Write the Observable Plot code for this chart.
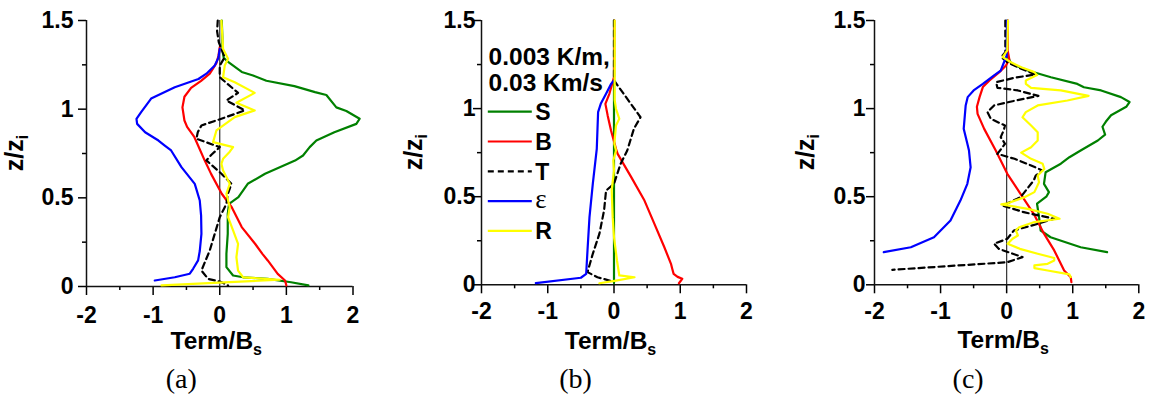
<!DOCTYPE html>
<html>
<head>
<meta charset="utf-8">
<script src="https://cdn.jsdelivr.net/npm/d3@7"></script>
<script src="https://cdn.jsdelivr.net/npm/@observablehq/plot@0.6"></script>
<style>
  body { margin: 0; background: #fff; }
  #fig { position: relative; width: 1151px; height: 396px; overflow: hidden; background: #fff; }
  #fig svg { position: absolute; top: 0; }
</style>
</head>
<body>
<div id="fig"></div>
<script>
// ---- axis ticks and labels ----
const zTicks = [0, 0.5, 1, 1.5];
const zMinorTicks = [0.25, 0.75, 1.25];
const termTicks = [-2, -1, 0, 1, 2];
const termMinorTicks = [-1.5, -0.5, 0.5, 1.5];
const termNames = ["S", "B", "T", "ε", "R"];
const legendNote = ["0.003 K/m,", "0.03 Km/s"];
const panelLabels = ["(a)", "(b)", "(c)"];

// ---- budget profiles: [z/zi, term/Bs] ----
// panel (a)
const a_S = [[1.5,0.03],[1.4,0.04],[1.33,0.04],[1.29,0.06],[1.265,0.13],[1.21,0.33],[1.19,0.5],[1.16,0.7],[1.13,1.12],[1.096,1.43],[1.08,1.6],[1.01,1.75],[0.99,1.9],[0.946,2.1],[0.917,2.05],[0.87,1.72],[0.823,1.45],[0.786,1.35],[0.739,1.25],[0.71,1.13],[0.692,1.02],[0.636,0.68],[0.579,0.42],[0.504,0.28],[0.466,0.14],[0.41,0.12],[0.297,0.12],[0.184,0.1],[0.109,0.1],[0.062,0.2],[0.052,0.35],[0.043,0.72],[0.024,1.07],[0.006,1.33]];
const a_B = [[1.35,0.0],[1.3,-0.02],[1.26,-0.05],[1.2,-0.15],[1.16,-0.28],[1.12,-0.43],[1.07,-0.53],[1.01,-0.56],[0.936,-0.53],[0.9,-0.49],[0.842,-0.38],[0.71,-0.225],[0.635,-0.13],[0.523,0.03],[0.447,0.18],[0.335,0.33],[0.241,0.53],[0.184,0.64],[0.147,0.72],[0.071,0.87],[0.034,0.98],[0.006,1.0]];
const a_T = [[1.5,-0.03],[1.44,-0.04],[1.378,-0.015],[1.293,0.075],[1.246,0],[1.18,0],[1.092,0.275],[1.049,0.1],[0.993,0.375],[0.946,0.025],[0.908,-0.275],[0.87,-0.33],[0.833,-0.35],[0.786,0],[0.743,-0.125],[0.711,-0.2],[0.636,0.025],[0.579,0.175],[0.52,0.12],[0.466,0.1],[0.391,0],[0.297,-0.075],[0.203,-0.15],[0.09,-0.275],[0.043,-0.175],[0.028,0],[0.006,0.125]];
const a_E = [[1.34,0],[1.29,-0.02],[1.246,-0.075],[1.2,-0.2],[1.17,-0.32],[1.124,-0.675],[1.06,-1.03],[0.983,-1.18],[0.945,-1.25],[0.917,-1.24],[0.87,-1.12],[0.823,-0.92],[0.795,-0.825],[0.767,-0.73],[0.673,-0.575],[0.579,-0.375],[0.485,-0.3],[0.4,-0.28],[0.297,-0.275],[0.2,-0.3],[0.147,-0.325],[0.1,-0.4],[0.072,-0.45],[0.052,-0.675],[0.034,-0.975]];
const a_R = [[1.5,0.025],[1.34,0.05],[1.284,0.125],[1.246,0.075],[1.18,0.05],[1.152,0.225],[1.092,0.525],[1.036,0.25],[0.993,0.525],[0.955,0.225],[0.88,-0.05],[0.814,-0.1],[0.786,0.2],[0.76,0.15],[0.72,0.05],[0.692,0.025],[0.654,0.05],[0.579,0.15],[0.523,0.1],[0.447,0.15],[0.391,0.125],[0.316,0.2],[0.241,0.275],[0.165,0.25],[0.09,0.275],[0.052,0.35],[0.038,0.9],[0.006,-0.875]];

// panel (b)
const b_S = [[1.5,0],[1.0,0],[0.5,0],[0.01,0]];
const b_B = [[1.5,0.005],[1.178,0],[1.084,-0.07],[1.027,-0.13],[0.96,-0.095],[0.876,-0.045],[0.772,0.03],[0.743,0.055],[0.611,0.26],[0.478,0.46],[0.346,0.61],[0.213,0.76],[0.119,0.86],[0.09,0.88],[0.062,0.9],[0.045,0.96],[0.034,1.03],[0.009,0.98]];
const b_T = [[1.5,0],[1.16,0],[0.951,0.4],[0.885,0.3],[0.762,0.2],[0.687,0.1],[0.573,0],[0.535,-0.12],[0.422,-0.15],[0.29,-0.22],[0.176,-0.32],[0.072,-0.4],[0.043,-0.25],[0.019,-0.02]];
const b_E = [[1.16,0],[1.14,-0.045],[1.084,-0.12],[1.027,-0.2],[0.98,-0.24],[0.772,-0.26],[0.573,-0.32],[0.384,-0.37],[0.195,-0.4],[0.062,-0.42],[0.04,-0.5],[0.009,-1.18]];
const b_R = [[1.5,0.01],[1.05,0.01],[0.999,0.03],[0.942,0.08],[0.904,0.03],[0.8,0.005],[0.762,0.03],[0.705,-0.01],[0.649,0],[0.535,-0.035],[0.384,-0.02],[0.27,0],[0.138,0.045],[0.053,0.08],[0.043,0.31],[0.024,0.03],[0.009,-0.22]];

// panel (c)
const c_S = [[1.5,0.01],[1.3,0.01],[1.254,0.07],[1.216,0.32],[1.178,0.67],[1.14,1.07],[1.121,1.17],[1.103,1.43],[1.065,1.73],[1.037,1.86],[1.01,1.81],[0.962,1.58],[0.925,1.5],[0.897,1.45],[0.852,1.49],[0.819,1.38],[0.762,1.12],[0.724,0.95],[0.687,0.82],[0.639,0.59],[0.573,0.565],[0.526,0.64],[0.5,0.6],[0.46,0.46],[0.384,0.49],[0.308,0.515],[0.27,0.665],[0.213,1.12],[0.185,1.52]];
const c_B = [[1.5,0.02],[1.33,0.015],[1.28,0.04],[1.245,-0.01],[1.207,-0.11],[1.16,-0.26],[1.122,-0.36],[1.065,-0.41],[1.01,-0.45],[0.97,-0.44],[0.885,-0.34],[0.762,-0.165],[0.63,0.01],[0.516,0.21],[0.403,0.41],[0.29,0.565],[0.195,0.72],[0.081,0.87],[0.043,0.97],[0.015,0.98]];
const c_T = [[1.5,-0.02],[1.32,-0.02],[1.292,-0.08],[1.263,0.01],[1.226,0.22],[1.194,0.44],[1.175,0.12],[1.15,-0.16],[1.118,-0.14],[1.103,0.17],[1.072,0.48],[1.046,0.14],[1.018,-0.19],[0.98,-0.29],[0.942,-0.24],[0.904,-0.025],[0.876,-0.045],[0.838,-0.09],[0.8,-0.025],[0.743,-0.14],[0.715,0.12],[0.677,0.37],[0.649,0.54],[0.62,0.44],[0.592,0.41],[0.554,0.33],[0.497,0.21],[0.45,-0.065],[0.412,0.26],[0.375,0.72],[0.346,0.47],[0.308,0.11],[0.261,0.01],[0.233,-0.19],[0.204,-0.12],[0.157,0.24],[0.128,0.01],[0.085,-1.73]];
const c_E = [[1.5,0.005],[1.3,0],[1.263,-0.04],[1.216,-0.09],[1.188,-0.19],[1.14,-0.36],[1.103,-0.5],[1.065,-0.59],[1.018,-0.62],[0.885,-0.65],[0.809,-0.6],[0.762,-0.57],[0.667,-0.545],[0.573,-0.595],[0.478,-0.7],[0.365,-0.85],[0.27,-1.1],[0.213,-1.45],[0.185,-1.86]];
const c_R = [[1.5,0.02],[1.33,0.01],[1.292,-0.06],[1.263,0.065],[1.235,0.22],[1.207,0.42],[1.19,0.46],[1.16,0.29],[1.141,0.29],[1.118,0.37],[1.103,0.82],[1.072,1.24],[1.046,0.92],[1.018,0.47],[0.98,0.29],[0.951,0.24],[0.904,0.37],[0.866,0.47],[0.819,0.47],[0.781,0.37],[0.75,0.22],[0.715,0.37],[0.687,0.545],[0.658,0.57],[0.62,0.47],[0.582,0.49],[0.526,0.42],[0.497,0.27],[0.463,0.015],[0.456,-0.08],[0.431,0.32],[0.403,0.62],[0.375,0.8],[0.356,0.42],[0.327,0.19],[0.308,0.14],[0.28,0.17],[0.261,0.09],[0.233,0.015],[0.204,0.2],[0.176,0.47],[0.152,0.72],[0.138,0.72],[0.119,0.62],[0.11,0.42],[0.095,0.42],[0.081,0.62],[0.059,0.95],[0.044,0.97]];

const panelSeries = [
  [a_S, a_B, a_T, a_E, a_R],
  [b_S, b_B, b_T, b_E, b_R],
  [c_S, c_B, c_T, c_E, c_R]
];

// ---- styling ----
const termStyle = [
  {stroke: "#008000"},
  {stroke: "#ff0000"},
  {stroke: "#000000", dash: "6,4"},
  {stroke: "#0000ff"},
  {stroke: "#ffff00"}
];
const sans = "'Liberation Sans', Arial, Helvetica, sans-serif";
const serif = "'Liberation Serif', 'Times New Roman', Times, serif";
const ML = 86, MR = 10, MT = 20, H = 396;

const layout = [
  {svgLeft: 0,     frameW: 266.5, frameBottom: 286,   yTickPad: 5,  xTickPad: 11, zLabelOff: 63,   legend: false},
  {svgLeft: 394.7, frameW: 265,   frameBottom: 284.3, yTickPad: -2, xTickPad: 9,  zLabelOff: 59.5, legend: true},
  {svgLeft: 787.7, frameW: 264.3, frameBottom: 284.3, yTickPad: 1,  xTickPad: 9,  zLabelOff: 60,   legend: false}
];

// helper for SVG text with explicit inline styling
function styledText(sel, {family = sans, weight = "bold", size = 24, anchor = "start"} = {}) {
  return sel.append("text")
    .style("font-family", family)
    .style("font-weight", weight)
    .style("font-size", size + "px")
    .style("text-anchor", anchor)
    .attr("fill", "#000");
}

const fig = document.getElementById("fig");

layout.forEach((p, k) => {
  const series = panelSeries[k];
  const lineMarks = series.map((pts, i) =>
    Plot.line(pts, {
      x: d => d[1], y: d => d[0],
      stroke: termStyle[i].stroke,
      strokeWidth: 2.2,
      strokeDasharray: termStyle[i].dash,
      strokeLinejoin: "round"
    })
  );

  const tickText = {fontSize: 23, fontWeight: "bold", fontFamily: sans};

  const plot = Plot.plot({
    width: ML + p.frameW + MR,
    height: H,
    marginLeft: ML, marginRight: MR, marginTop: MT, marginBottom: H - p.frameBottom,
    x: {domain: [-2, 2], label: null},
    y: {domain: [0, 1.5], label: null},
    style: {fontFamily: sans, fontSize: "23px", fontWeight: "bold", color: "#000", background: "#fff"},
    marks: [
      // reference line at zero
      Plot.ruleX([0], {y1: 0, y2: 1.5, stroke: "#333", strokeWidth: 1.2}),
      // axes
      Plot.axisX(termTicks, {tickSize: 9, tickPadding: p.xTickPad, tickFormat: d => String(d), strokeWidth: 1.5, label: null, ...tickText}),
      Plot.axisX(termMinorTicks, {tickSize: 4, tickFormat: () => "", strokeWidth: 1.5, label: null}),
      Plot.axisY(zTicks, {tickSize: 8, tickPadding: p.yTickPad, tickFormat: d => String(d), strokeWidth: 1.5, label: null, ...tickText}),
      Plot.axisY(zMinorTicks, {tickSize: 4, tickFormat: () => "", strokeWidth: 1.5, label: null}),
      Plot.ruleY([0], {x1: -2, x2: 2, stroke: "#111", strokeWidth: 1.5}),
      Plot.ruleX([-2], {y1: 0, y2: 1.5, stroke: "#111", strokeWidth: 1.5}),
      ...lineMarks
    ]
  });

  plot.style.left = p.svgLeft + "px";
  const svg = d3.select(plot);
  const cx = ML + p.frameW / 2;
  const frameH = p.frameBottom - MT;

  // x title: Term/Bs
  const xt = styledText(svg, {size: 24.5, anchor: "middle"})
    .attr("x", cx - 3).attr("y", 348.5);
  xt.append("tspan").text("Term/B");
  xt.append("tspan").attr("dy", 6).style("font-size", "16px").text("s");

  // y title: z/zi
  const yt = styledText(svg, {size: 25, anchor: "middle"})
    .attr("transform", `translate(${ML - p.zLabelOff},${MT + frameH / 2}) rotate(-90)`);
  yt.append("tspan").text("z/z");
  yt.append("tspan").attr("dy", 5).style("font-size", "16px").text("i");

  // panel letter
  styledText(svg, {family: serif, weight: "normal", size: 28, anchor: "middle"})
    .attr("x", cx - 38).attr("y", 388)
    .text(panelLabels[k]);

  // legend with stratification note
  if (p.legend) {
    const g = svg.append("g");
    legendNote.forEach((t, i) => {
      styledText(g, {size: 24.5}).attr("x", 93.6).attr("y", 65 + i * 26).text(t);
    });
    termNames.forEach((name, i) => {
      const y = 111.7 + i * 29.8;
      g.append("line")
        .attr("x1", 92.8).attr("x2", 136.8).attr("y1", y).attr("y2", y)
        .attr("stroke", termStyle[i].stroke).attr("stroke-width", 2.2)
        .attr("stroke-dasharray", termStyle[i].dash || null);
      const isGreek = name === "ε";
      styledText(g, isGreek ? {family: serif, weight: "normal", size: 27} : {size: 23})
        .attr("x", 140.3).attr("y", y + (isGreek ? 7 : 8.5))
        .text(name);
    });
  }

  fig.appendChild(plot);
});
</script>
</body>
</html>
